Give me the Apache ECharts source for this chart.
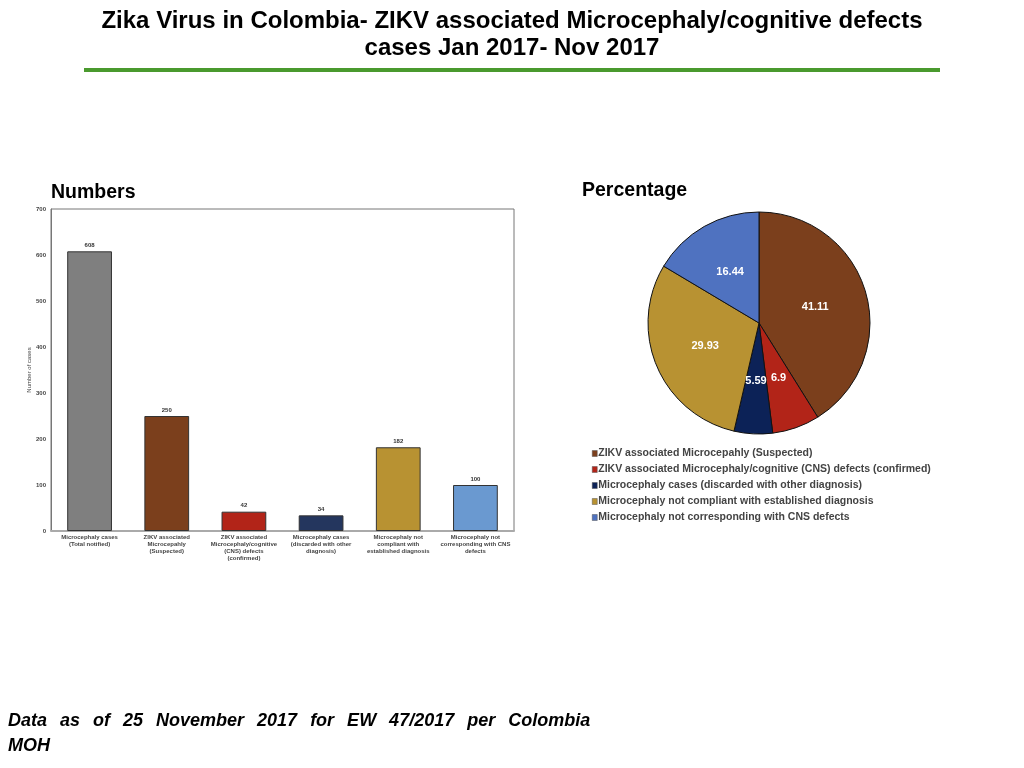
<!DOCTYPE html>
<html lang="en">
  <head>
    <meta charset="UTF-8" />
    <title>Zika Colombia</title>
    <script src="https://cdn.jsdelivr.net/npm/echarts@6/dist/echarts.min.js"></script>
    <style>
      html, body { margin: 0; padding: 0; background: #fff; }
    </style>
  </head>
  <body>
    <div id="main" style="width: 1024px; height: 768px"></div>
    <script>
      const barCategories = [
        'Microcephaly cases\n(Total notified)',
        'ZIKV associated\nMicrocepahly\n(Suspected)',
        'ZIKV associated\nMicrocephaly/cognitive\n(CNS) defects\n(confirmed)',
        'Microcephaly cases\n(discarded with other\ndiagnosis)',
        'Microcephaly not\ncompliant with\nestablished diagnosis',
        'Microcephaly not\ncorresponding with CNS\ndefects'
      ];
      const barValues = [608, 250, 42, 34, 182, 100];
      const barColors = ['#7f7f7f', '#7b3f1c', '#b22418', '#24365e', '#b89232', '#6a99d0'];

      const pieNames = [
        'ZIKV associated Microcepahly (Suspected)',
        'ZIKV associated Microcephaly/cognitive (CNS) defects (confirmed)',
        'Microcephaly cases (discarded with other diagnosis)',
        'Microcephaly not compliant with established diagnosis',
        'Microcephaly not corresponding with CNS defects'
      ];
      const pieValues = [41.11, 6.9, 5.59, 29.93, 16.44];
      const pieColors = ['#7b3f1c', '#b22418', '#0c2257', '#b89232', '#4f72c0'];

      const footerLine1 = 'Data as of 25 November 2017 for EW 47/2017 per Colombia';
      const footerLine2 = 'MOH';

      const chart = echarts.init(document.getElementById('main'));
      const font = 'Liberation Sans, Arial, sans-serif';

      // first footer line is justified in the slide, so pad each word a little
      const footerWords = footerLine1.split(' ');
      const footerText =
        footerWords.map((w, i) => (i < footerWords.length - 1 ? '{w|' + w + '}' : '{l|' + w + '}')).join(' ') +
        '\n{l|' + footerLine2 + '}';

      const footStyle = { fontSize: 18, fontWeight: 'bold', fontStyle: 'italic', color: '#000', lineHeight: 25 };

      const option = {
        animation: false,
        textStyle: { fontFamily: font },
        title: [
          {
            text: 'Zika Virus in Colombia- ZIKV associated Microcephaly/cognitive defects\ncases Jan 2017- Nov 2017',
            left: 'center',
            top: 8,
            padding: 0,
            textStyle: { fontSize: 24, fontWeight: 'bold', color: '#000', lineHeight: 27, align: 'center' }
          },
          {
            text: 'Numbers',
            left: 51,
            top: 183,
            padding: 0,
            textStyle: { fontSize: 19.5, fontWeight: 'bold', color: '#000' }
          },
          {
            text: 'Percentage',
            left: 582,
            top: 181,
            padding: 0,
            textStyle: { fontSize: 19.5, fontWeight: 'bold', color: '#000' }
          },
          {
            text: footerText,
            left: 8,
            top: 709,
            padding: 0,
            textStyle: Object.assign({}, footStyle, {
              rich: {
                w: Object.assign({}, footStyle, { padding: [0, 8, 0, 0] }),
                l: Object.assign({}, footStyle)
              }
            })
          }
        ],
        graphic: [
          {
            type: 'rect',
            shape: { x: 84, y: 68, width: 856, height: 4 },
            style: { fill: '#4a9a2e' }
          }
        ],
        grid: {
          left: 51,
          right: 510,
          top: 209,
          bottom: 237,
          show: true,
          borderColor: '#777',
          borderWidth: 1
        },
        xAxis: {
          type: 'category',
          data: barCategories,
          axisTick: { show: false },
          axisLine: { lineStyle: { color: '#aaa', width: 2 } },
          axisLabel: {
            interval: 0,
            fontSize: 6,
            fontWeight: 'bold',
            color: '#444',
            lineHeight: 7,
            margin: 3
          }
        },
        yAxis: {
          type: 'value',
          min: 0,
          max: 700,
          interval: 100,
          name: 'Number of cases',
          nameLocation: 'middle',
          nameGap: 16,
          nameTextStyle: { fontSize: 6, color: '#444' },
          splitLine: { show: false },
          axisLine: { show: true, lineStyle: { color: '#777', width: 1 } },
          axisTick: { show: false },
          axisLabel: { fontSize: 6, fontWeight: 'bold', color: '#444', margin: 5 }
        },
        legend: {
          orient: 'vertical',
          left: 587,
          top: 443,
          itemWidth: 5,
          itemHeight: 6,
          itemGap: 5,
          icon: 'rect',
          data: pieNames,
          itemStyle: { borderWidth: 0.5, borderColor: '#555' },
          textStyle: { fontSize: 10.5, fontWeight: 'bold', color: '#444', padding: [0, 0, 0, -4] }
        },
        series: [
          {
            type: 'bar',
            data: barValues.map((v, i) => ({
              value: v,
              itemStyle: { color: barColors[i] }
            })),
            barWidth: '58%',
            itemStyle: { borderColor: '#333', borderWidth: 1 },
            label: {
              show: true,
              position: 'top',
              fontSize: 6,
              fontWeight: 'bold',
              color: '#333',
              distance: 3
            }
          },
          {
            type: 'pie',
            center: [759, 323],
            radius: 111,
            startAngle: 90,
            clockwise: true,
            data: pieNames.map((n, i) => ({
              name: n,
              value: pieValues[i],
              itemStyle: { color: pieColors[i] }
            })),
            itemStyle: { borderColor: '#111', borderWidth: 1 },
            label: {
              show: true,
              position: 'inside',
              formatter: '{c}',
              fontSize: 11,
              fontWeight: 'bold',
              color: '#fff'
            },
            labelLine: { show: false },
            emphasis: { disabled: true }
          }
        ]
      };
      chart.setOption(option);
    </script>
  </body>
</html>
